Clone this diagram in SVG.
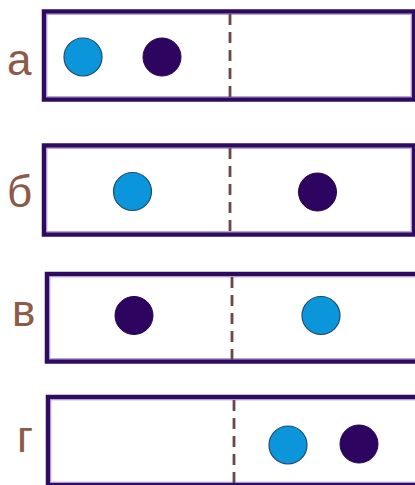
<svg xmlns="http://www.w3.org/2000/svg" width="415" height="485" viewBox="0 0 415 485">
<style>
.box{fill:#ffffff;stroke:#2e0b5f;stroke-width:4.5}
.inner{fill:none;stroke:#a58fd6;stroke-width:1}
.div{stroke:#6b4848;stroke-width:2.8;stroke-dasharray:11 7}
.light{fill:#0b96dc;stroke:#1d4d6e;stroke-width:1.2}
.dark{fill:#2d0560;stroke:#24044e;stroke-width:1}
.lbl{font-family:"Liberation Sans",Arial,sans-serif;font-size:44px;fill:#8b5a48}
</style>
<rect width="415" height="485" fill="#ffffff"/>
<g id="row-a">
<rect class="box" x="44" y="11.5" width="370" height="88"/>
<rect class="inner" x="46.8" y="14.3" width="364.4" height="82.4"/>
<line class="div" x1="230" y1="14" x2="230" y2="98"/>
<circle class="light" cx="83" cy="57" r="19"/>
<circle class="dark" cx="162" cy="57" r="19"/>
<text class="lbl" x="7" y="75">а</text>
</g>
<g id="row-b">
<rect class="box" x="44" y="145.5" width="370" height="89"/>
<rect class="inner" x="46.8" y="148.3" width="364.4" height="83.4"/>
<line class="div" x1="230" y1="148" x2="230" y2="233"/>
<circle class="light" cx="132.5" cy="191.5" r="19"/>
<circle class="dark" cx="317.5" cy="192" r="19"/>
<text class="lbl" x="7" y="207">б</text>
</g>
<g id="row-v">
<rect class="box" x="47" y="274" width="390" height="87.5"/>
<rect class="inner" x="49.8" y="276.8" width="390" height="81.9"/>
<line class="div" x1="232" y1="277" x2="232" y2="360"/>
<circle class="dark" cx="134" cy="315.5" r="19"/>
<circle class="light" cx="321" cy="315.5" r="19"/>
<text class="lbl" x="12" y="326">в</text>
</g>
<g id="row-g">
<rect class="box" x="48" y="397" width="390" height="88"/>
<rect class="inner" x="50.8" y="399.8" width="390" height="82.4"/>
<line class="div" x1="234" y1="400" x2="234" y2="485"/>
<circle class="light" cx="288" cy="445" r="19"/>
<circle class="dark" cx="359" cy="444" r="19"/>
<text class="lbl" x="17" y="452">г</text>
</g>
<g id="connectors"></g>
</svg>
